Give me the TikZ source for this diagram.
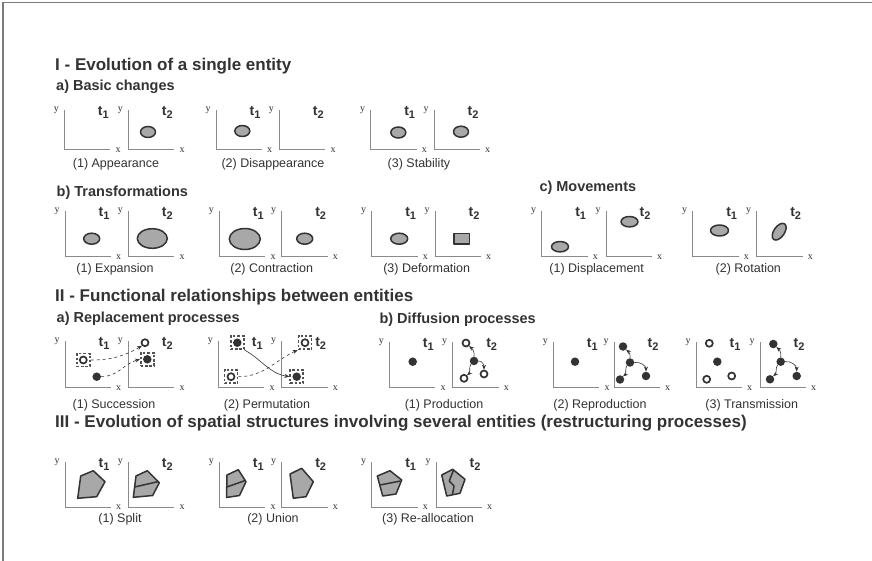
\documentclass[tikz,border=0pt]{standalone}
\usepackage{fontspec}
\setmainfont{Liberation Sans}
\newfontfamily\serifx{Liberation Serif}
\usetikzlibrary{arrows.meta}
\definecolor{ink}{HTML}{333333}
\definecolor{axisc}{HTML}{8A8A8A}
\definecolor{fillg}{HTML}{A8A8A8}
\definecolor{framec}{HTML}{7A7A7A}
\newcommand\tsub[1]{\textbf{t}\raisebox{-3.5pt}{\fontsize{11}{11}\selectfont\textbf{#1}}}
% #1 name, #2 axis x, #3 top, #4 bottom, #5 t-index
\newcommand\frm[5]{%
  \draw[axl] (#2,#3) -- (#2,#4) -- ++(46,0) coordinate (#1e);
  \node[lab] (#1y) at (#2-8,#3) {y};
  \node[lab, anchor=west] (#1x) at ([xshift=5pt,yshift=-0.5pt]#1e) {x};
  \node[tl] (#1t) at (#2+39,#3+2.5) {\tsub{#5}};
}
\tikzset{
  axl/.style={draw=axisc, line width=1pt},
  lab/.style={font=\serifx\fontsize{10}{10}\selectfont, text=ink, inner sep=0pt},
  tl/.style={font=\fontsize{14}{14}\selectfont, text=ink, inner sep=0pt},
  ent/.style={draw=ink, fill=fillg, line width=1.5pt, line join=round},
  divl/.style={draw=ink, line width=1.5pt, line join=round},
  capt/.style={font=\fontsize{12.5}{12.5}\selectfont, text=ink, inner sep=0pt},
  hdone/.style={font=\bfseries\fontsize{17}{17}\selectfont, text=ink, anchor=base west, inner sep=0pt},
  hdtwo/.style={font=\bfseries\fontsize{14.5}{14.5}\selectfont, text=ink, anchor=base west, inner sep=0pt},
  fdot/.style={circle, fill=ink, inner sep=0pt, minimum size=8.5pt},
  hring/.style={circle, draw=ink, fill=white, line width=1.7pt, inner sep=0pt, minimum size=7pt},
  dbox/.style={rectangle, draw=ink!85, dash pattern=on 2.5pt off 1.8pt, line width=1.6pt, minimum size=13pt, inner sep=0pt},
  flow/.style={draw=ink, line width=0.6pt, dashed, -{Stealth[length=5pt,width=4pt]}},
  spread/.style={draw=ink, line width=0.6pt, -{Stealth[length=5pt,width=4pt]}},
}
\begin{document}
\begin{tikzpicture}[x=1pt,y=-1pt]
\useasboundingbox (0,0) rectangle (872,561);
\fill[white] (0,0) rectangle (872,561);
\draw[framec, line width=1.2pt] (3,561) -- (3,2.5) -- (872,2.5);

% ---------------- I
\node[hdone] (h1) at (55,71) {I - Evolution of a single entity};
\node[hdtwo] (h1a) at (56,91) {a) Basic changes};

\frm{aal}{64.3}{110}{149.5}{1}
\frm{aar}{128.3}{110}{149.5}{2}
\draw[ent] (148,132) ellipse [x radius=7.5pt, y radius=5.5pt];
\node[capt] (c11) at (116,164) {(1) Appearance};

\frm{abl}{216}{110}{149.5}{1}
\frm{abr}{279.3}{110}{149.5}{2}
\draw[ent] (242.3,131) ellipse [x radius=7.5pt, y radius=5.5pt];
\node[capt] (c12) at (273,164) {(2) Disappearance};

\frm{acl}{370.7}{110}{149.5}{1}
\frm{acr}{434}{110}{149.5}{2}
\draw[ent] (398.3,132.5) ellipse [x radius=7.5pt, y radius=5.5pt];
\draw[ent] (461,131.7) ellipse [x radius=7.5pt, y radius=5.5pt];
\node[capt] (c13) at (419,164) {(3) Stability};

\node[hdtwo] (h1b) at (56.5,197) {b) Transformations};
\frm{bal}{65}{211}{257}{1}
\frm{bar}{128.3}{211}{257}{2}
\draw[ent] (91.7,238.7) ellipse [x radius=8pt, y radius=5.5pt];
\draw[ent] (152.3,238.5) ellipse [x radius=15pt, y radius=9.8pt];
\node[capt] (c21) at (115,269.5) {(1) Expansion};

\frm{bbl}{219.3}{211}{257}{1}
\frm{bbr}{281.7}{211}{257}{2}
\draw[ent] (244.8,239) ellipse [x radius=15.5pt, y radius=10.5pt];
\draw[ent] (304.7,238.7) ellipse [x radius=8pt, y radius=5.5pt];
\node[capt] (c22) at (271.7,269.5) {(2) Contraction};

\frm{bcl}{371.7}{211}{257}{1}
\frm{bcr}{435}{211}{257}{2}
\draw[ent] (399.2,238.7) ellipse [x radius=8.5pt, y radius=5.5pt];
\draw[ent] (454,233.3) rectangle (469.3,244);
\node[capt] (c23) at (426.7,269.5) {(3) Deformation};

\node[hdtwo] (h1c) at (539.3,192) {c) Movements};
\frm{cal}{541.7}{211}{257}{1}
\frm{car}{606}{211}{257}{2}
\draw[ent] (560,246.7) ellipse [x radius=8.5pt, y radius=5.2pt];
\draw[ent] (629.5,221.7) ellipse [x radius=8.5pt, y radius=5.2pt];
\node[capt] (c31) at (596.7,269.5) {(1) Displacement};

\frm{cbl}{692.7}{211}{257}{1}
\frm{cbr}{756.7}{211}{257}{2}
\draw[ent] (719.5,230.5) ellipse [x radius=9pt, y radius=5.5pt];
\draw[ent, rotate around={55:(779.2,231.7)}] (779.2,231.7) ellipse [x radius=9.5pt, y radius=5.3pt];
\node[capt] (c32) at (748.3,269.5) {(2) Rotation};

% ---------------- II
\node[hdone] (h2) at (55,301) {II - Functional relationships between entities};
\node[hdtwo] (h2a) at (56.5,322) {a) Replacement processes};
\node[hdtwo] (h2b) at (379.3,323.5) {b) Diffusion processes};

\frm{dal}{65}{341}{387.5}{1}
\frm{dar}{128.3}{341}{387.5}{2}
\node[dbox] (s1b) at (83.3,360) {};
\node[hring] (s1r) at (83.3,360) {};
\node[fdot] (s1d) at (96.7,376.7) {};
\node[hring] (s2r) at (145,342.7) {};
\node[dbox] (s2b) at (147.3,359.3) {};
\node[fdot] (s2d) at (147.3,359.3) {};
\draw[flow] (s1b.east) to[out=0,in=210] (s2r.south west);
\draw[flow] (s1d.east) to[out=0,in=195] (s2b.west);
\node[capt] (c41) at (114,405) {(1) Succession};

\frm{dbl}{218.3}{341}{387.5}{1}
\frm{dbr}{281.7}{341}{387.5}{2}
\node[dbox] (p1b) at (237.3,342.7) {};
\node[fdot] (p1d) at (237.3,342.7) {};
\node[dbox] (p1c) at (231,376.7) {};
\node[hring] (p1r) at (231,376.7) {};
\node[dbox] (p2c) at (305,342.7) {};
\node[hring] (p2r) at (305,342.7) {};
\node[dbox] (p2b) at (296.7,376.7) {};
\node[fdot] (p2d) at (296.7,376.7) {};
\draw[spread] (p1b.south east) to[out=-30,in=170] (p2b.west);
\draw[flow] (p1c.east) to[out=0,in=205] (p2c.south west);
\node[capt] (c42) at (267,405) {(2) Permutation};

% production
\frm{eal}{389.3}{342}{387.5}{1}
\frm{ear}{452.7}{342}{387.5}{2}
\node[fdot] (e1) at (412.7,361.7) {};
\node[fdot] (eC) at (474,361) {};
\node[hring] (eU) at (466,343) {};
\node[hring] (eL) at (464,378.3) {};
\node[hring] (eR) at (484,374) {};
\draw[spread] (eC.north) to[out=80,in=-40] (eU.south east);
\draw[spread] (eC.south west) to[out=-120,in=40] (eL.north east);
\draw[spread] (eC.east) to[out=10,in=90] (eR.north);
\node[capt] (c43) at (444,405) {(1) Production};

% reproduction
\frm{ebl}{553.3}{342}{387.5}{1}
\frm{ebr}{614}{342}{387.5}{2}
\node[fdot] (f1) at (575,361.7) {};
\node[fdot] (fC) at (630,362.5) {};
\node[fdot] (fU) at (623,346.5) {};
\node[fdot] (fL) at (620,379.5) {};
\node[fdot] (fR) at (646,376) {};
\draw[spread] (fC.north) to[out=80,in=-40] (fU.south east);
\draw[spread] (fC.south west) to[out=-120,in=40] (fL.north east);
\draw[spread] (fC.east) to[out=10,in=90] (fR.north);
\node[capt] (c44) at (600,405) {(2) Reproduction};

% transmission
\frm{ecl}{696}{342}{387.5}{1}
\frm{ecr}{760}{342}{387.5}{2}
\node[hring] (g1) at (709.3,343.3) {};
\node[fdot] (g2) at (717.3,361.7) {};
\node[hring] (g3) at (706.7,379.3) {};
\node[hring] (g4) at (731.7,376) {};
\node[fdot] (gC) at (780.7,361.7) {};
\node[fdot] (gU) at (773.3,344) {};
\node[fdot] (gL) at (770,379.3) {};
\node[fdot] (gR) at (796.7,376) {};
\draw[spread] (gC.north) to[out=80,in=-40] (gU.south east);
\draw[spread] (gC.south west) to[out=-120,in=40] (gL.north east);
\draw[spread] (gC.east) to[out=10,in=90] (gR.north);
\node[capt] (c45) at (751.7,405) {(3) Transmission};

% ---------------- III
\node[hdone] (h3) at (55,427.7) {III - Evolution of spatial structures involving several entities (restructuring processes)};

\frm{kal}{65}{462}{507}{1}
\frm{kar}{128.3}{462}{507}{2}
\draw[ent] (80.7,476) -- (93.3,470.7) -- (105,481.7) -- (96.7,496.7) -- (77.7,498.3) -- cycle;
\draw[ent] (136,476) -- (147.3,470.7) -- (159.3,482.7) -- (152.7,495.5) -- (133.3,497.3) -- cycle;
\draw[divl] (134.7,487) -- (158.5,481.5);
\node[capt] (c51) at (120,519) {(1) Split};

\frm{kbl}{219.3}{462}{507}{1}
\frm{kbr}{281.7}{462}{507}{2}
\draw[ent] (227,475) -- (238.3,469.7) -- (246,481.7) -- (239.5,495.5) -- (226.5,497.5) -- cycle;
\draw[divl] (226.8,487) -- (245.2,480.5);
\draw[ent] (290,474) -- (301.7,468.3) -- (313.3,481.7) -- (306,496.7) -- (293.3,498.3) -- cycle;
\node[capt] (c52) at (273,519) {(2) Union};

\frm{kcl}{371.7}{462}{507}{1}
\frm{kcr}{436}{462}{507}{2}
\draw[ent] (377.3,476) -- (390,470.7) -- (401.7,480) -- (396,494) -- (382.7,496) -- cycle;
\draw[divl] (379.8,485) -- (400.5,481);
\draw[ent] (441.7,475) -- (452.7,469.3) -- (465,479.3) -- (460,493.3) -- (446.7,496) -- cycle;
\draw[divl] (453.5,470) -- (449.3,481) -- (454,486) -- (452.5,494.5);
\node[capt] (c53) at (428,519) {(3) Re-allocation};
\end{tikzpicture}
\end{document}
